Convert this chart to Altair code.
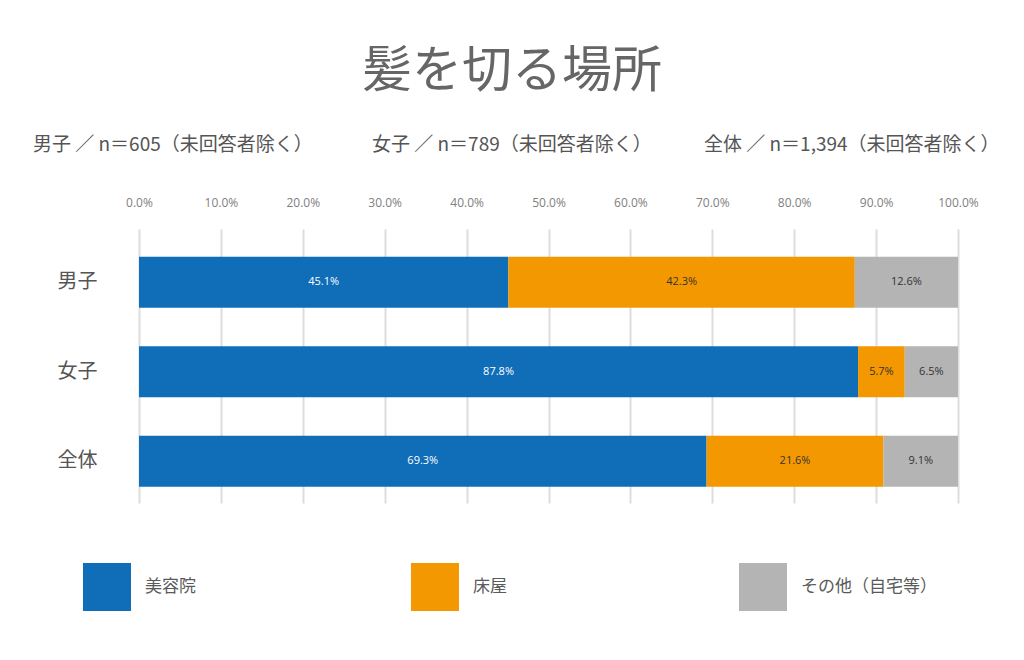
import altair as alt
import pandas as pd

groups = ["男子", "女子", "全体"]
categories = ["美容院", "床屋", "その他（自宅等）"]
values = {
    "男子": [45.1, 42.3, 12.6],
    "女子": [87.8, 5.7, 6.5],
    "全体": [69.3, 21.6, 9.1],
}
colors = ["#106DB7", "#F39800", "#B4B4B4"]
title_text = "髪を切る場所"
subtitles = [
    "男子 ／ n＝605（未回答者除く）",
    "女子 ／ n＝789（未回答者除く）",
    "全体 ／ n＝1,394（未回答者除く）",
]
x_ticks = [0, 10, 20, 30, 40, 50, 60, 70, 80, 90, 100]

rows = []
for g in groups:
    for i, c in enumerate(categories):
        rows.append({"group": g, "cat": c, "idx": i, "value": values[g][i]})
df = pd.DataFrame(rows)

JP = "Noto Sans CJK JP"
NUM = "Open Sans"

base = alt.Chart(df)

y_enc = alt.Y(
    "group:N",
    sort=groups,
    scale=alt.Scale(paddingInner=0.43, paddingOuter=0.246, align=0.63),
    axis=alt.Axis(
        title=None, domain=False, ticks=False, labelPadding=42,
        labelFont=JP, labelFontSize=20, labelColor="#555555", grid=False,
    ),
)

bars = base.mark_bar(size=51).encode(
    x=alt.X(
        "value:Q",
        stack="zero",
        scale=alt.Scale(domain=[0, 100], nice=False),
        axis=alt.Axis(
            orient="top", values=x_ticks, title=None, domain=False, ticks=False,
            labelExpr="format(datum.value, '.1f') + '%'", labelFlush=False,
            labelFont=NUM, labelFontSize=12, labelColor="#808080", labelPadding=20,
            grid=True, gridColor="#DDDDDD", gridWidth=2,
        ),
    ),
    y=y_enc,
    color=alt.Color(
        "cat:N",
        scale=alt.Scale(domain=categories, range=colors),
        legend=alt.Legend(
            orient="none", legendX=-56, legendY=334, direction="horizontal",
            columns=3, title=None, symbolType="square", symbolSize=2304,
            symbolStrokeWidth=0, symbolOpacity=1, labelFont=JP, labelFontSize=17,
            labelColor="#5A5A5A", labelOffset=14, columnPadding=130,
            gridAlign="all", padding=0, labelLimit=300,
        ),
    ),
    order=alt.Order("idx:Q"),
)

labels = base.transform_stack(
    stack="value", groupby=["group"], as_=["v0", "v1"], sort=[alt.SortField("idx")]
).transform_calculate(
    mid="(datum.v0 + datum.v1) / 2",
    lbl="format(datum.value, '.1f') + '%'",
    white="datum.idx == 0 ? 1 : 0",
).mark_text(font=NUM, fontSize=11, baseline="middle", align="center").encode(
    x=alt.X("mid:Q"),
    y=alt.Y("group:N", sort=groups),
    text="lbl:N",
    color=alt.condition("datum.white == 1", alt.value("#FFFFFF"), alt.value("#333333")),
)

one = alt.Chart(pd.DataFrame([{"k": 0}]))

title_mark = one.mark_text(
    text=title_text, font=JP, fontSize=50, color="#666666", align="center", baseline="middle"
).encode(x=alt.value(373), y=alt.value(-157))

sub_x = [-106, 233, 565]
sub_layers = [
    one.mark_text(
        text=t, font=JP, fontSize=19, color="#555555", align="left", baseline="middle"
    ).encode(x=alt.value(sx), y=alt.value(-84))
    for t, sx in zip(subtitles, sub_x)
]

chart = alt.layer(bars, labels, title_mark, *sub_layers).properties(
    width=819,
    height=274,
    autosize=alt.AutoSizeParams(type="none"),
    padding={"left": 131, "top": 221, "right": 58, "bottom": 140},
    background="white",
).configure_view(stroke=None)

chart.save("out.html", embed_options={"renderer": "svg", "actions": False})
